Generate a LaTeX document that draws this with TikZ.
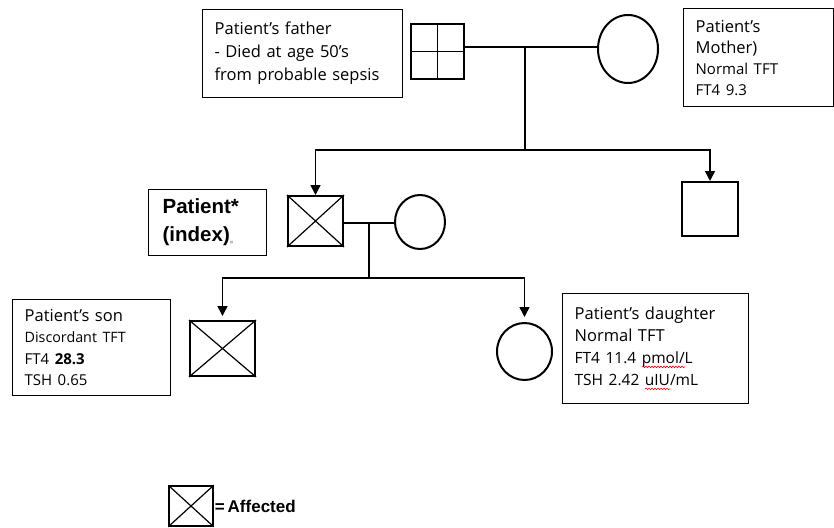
\documentclass[tikz,border=0pt]{standalone}
\usepackage{fontspec}
\setmainfont{Open Sans}
\newfontfamily\arialfont{Liberation Sans}
\usetikzlibrary{arrows.meta,shapes.geometric,calc,decorations.pathmorphing}
\newsavebox\wavebox
\newcommand\redwave[1]{\sbox\wavebox{#1}\rlap{\tikz[baseline=0pt]\draw[red, line width=0.6pt, decorate,
  decoration={snake, amplitude=0.8pt, segment length=3pt}] (0pt,-3pt) -- (\wd\wavebox,-3pt);}\usebox\wavebox}
\tikzset{
  info/.style={draw, line width=1.3pt, anchor=north west, align=left, inner xsep=12pt, inner ysep=0pt},
  sq/.style={draw, line width=2pt, rectangle, inner sep=0pt},
  circ/.style={draw, line width=2pt, ellipse, inner sep=0pt},
  ln/.style={line width=1.5pt},
  arr/.style={ln, -{Triangle[width=10pt,length=10pt]}},
}
\begin{document}
\begin{tikzpicture}[x=1pt,y=-1pt]
\useasboundingbox (0,0) rectangle (834,527);
% info boxes
\node[info, minimum width=200pt, minimum height=88pt, text width=176pt,
  font=\fontsize{16.5}{23}\selectfont] (fbox) at (202,9)
  {Patient’s father\\- Died at age 50’s\\from probable sepsis};
\node[info, minimum width=150pt, minimum height=98pt, text width=126pt,
  font=\fontsize{16.5}{21}\selectfont] (mbox) at (683,8)
  {Patient’s\\Mother)\\\fontsize{15}{21}\selectfont Normal TFT\\FT4 9.3};
\node[info, inner xsep=14pt, minimum width=118pt, minimum height=66pt, text width=90pt,
  font=\arialfont\bfseries\fontsize{20.5}{28}\selectfont] (pbox) at (148,189)
  {Patient*\\(index)\raisebox{-3pt}{\textcolor{gray}{\fontsize{6}{6}\selectfont =}}};
\node[info, minimum width=158pt, minimum height=96pt, text width=134pt,
  font=\fontsize{16.5}{21.3}\selectfont] (sbox) at (12,299)
  {Patient’s son\\\fontsize{14.3}{21.3}\selectfont Discordant TFT\\\fontsize{15}{21.3}\selectfont FT4 \textbf{28.3}\\TSH 0.65};
\node[info, minimum width=186pt, minimum height=110pt, text width=162pt,
  font=\fontsize{16.5}{22}\selectfont] (dbox) at (562,293)
  {Patient’s daughter\\Normal TFT\\\fontsize{15.5}{22}\selectfont FT4 11.4 \redwave{pmol/}L\\TSH 2.42 \redwave{uIU}/mL};
% pedigree symbols
\node[sq, minimum width=53pt, minimum height=55pt] (father) at (437.5,51.5) {};
\draw[line width=1.5pt] (father.north) -- (father.south) (father.west) -- (father.east);
\node[circ, minimum width=60pt, minimum height=68pt] (mother) at (628,49) {};
\node[sq, minimum width=55pt, minimum height=50pt] (patient) at (315.5,221) {};
\draw[line width=1.2pt] (patient.north west) -- (patient.south east) (patient.north east) -- (patient.south west);
\node[circ, minimum width=50pt, minimum height=54pt] (wife) at (420,222) {};
\node[sq, minimum width=56pt, minimum height=54pt] (sibling) at (710,209) {};
\node[sq, minimum width=65pt, minimum height=55pt] (son) at (222.5,348.5) {};
\draw[line width=1.2pt] (son.north west) -- (son.south east) (son.north east) -- (son.south west);
\node[circ, minimum width=55pt, minimum height=57pt] (daughter) at (524.5,351.5) {};
% connectors
\coordinate (fm) at (525,47);
\coordinate (sib) at (525,150);
\draw[ln] (fm -| father.east) -- (fm -| mother.west);
\draw[ln] (fm) -- (sib);
\draw[arr] (sib) -| (patient.north);
\draw[arr] (sib) -| (sibling.north);
\coordinate (pm) at (369,223);
\coordinate (kids) at (369,278);
\draw[ln] (pm -| patient.east) -- (pm -| wife.west);
\draw[ln] (pm) -- (kids);
\draw[arr, shorten >=4pt] (kids) -| (son.north);
\draw[arr, shorten >=5pt] (kids) -| (daughter.north);
% legend
\node[sq, line width=1.5pt, minimum width=44pt, minimum height=40pt] (legend) at (191,506) {};
\draw[line width=1.2pt] (legend.north west) -- (legend.south east) (legend.north east) -- (legend.south west);
\node[anchor=west, inner sep=1pt, font=\arialfont\bfseries\fontsize{17}{20}\selectfont] (legtext) at (legend.east) {=\,Affected};
\end{tikzpicture}
\end{document}
